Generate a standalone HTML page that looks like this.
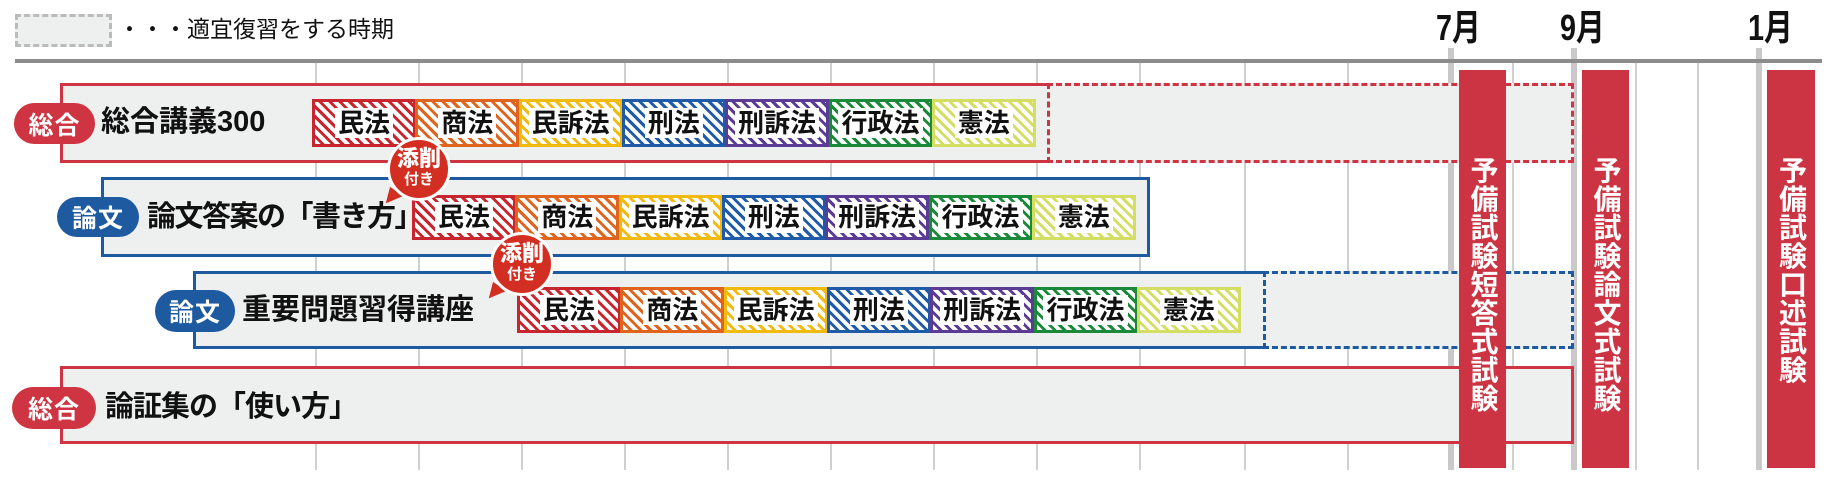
<!DOCTYPE html>
<html><head><meta charset="utf-8">
<style>
*{margin:0;padding:0;box-sizing:border-box}
body{width:1837px;height:477px;background:#fff;position:relative;overflow:hidden;font-family:"Liberation Sans","Noto Sans CJK JP",sans-serif;font-weight:bold;color:#111}
.a{position:absolute}
.g{position:absolute;top:62px;height:408px;width:2px;background:#d0d0d0}
.gt{position:absolute;top:48px;height:422px;width:6px;background:#c9c9c9}
.row{position:absolute;background:#eef0ef}
.badge{position:absolute;border-radius:21px;color:#fff;font-size:25px;display:flex;align-items:center;justify-content:center;letter-spacing:1px}
.title{position:absolute;font-size:29px;white-space:nowrap;line-height:1}
.sb{position:absolute;border:3px solid;display:flex;align-items:center;justify-content:center;font-size:26px}
.sb span{background:#fff;padding:1px 3px;line-height:1.1}
.bar{position:absolute;top:70px;height:398px;background:#cd3443;color:#fff;font-size:28px;writing-mode:vertical-rl;text-orientation:upright;display:flex;justify-content:flex-start;align-items:center;padding-top:86px;line-height:1;letter-spacing:0.5px}
.mon{position:absolute;top:10px;font-size:36px;line-height:1;transform:scaleX(.8);transform-origin:left}
.bub{position:absolute;width:64px;height:64px;border-radius:50%;background:#d22f22;border:3px solid #fff;color:#fff;text-align:center;line-height:1}
.bub b{display:block;font-size:22px;margin-top:8px}
.bub i{display:block;font-style:normal;font-size:15px;margin-top:2px}
.tail{position:absolute;width:0;height:0;border-left:6px solid transparent;border-right:10px solid transparent;border-top:16px solid #d22f22;transform:rotate(35deg)}
</style></head><body>

<div class="a" style="left:15px;top:14px;width:97px;height:33px;border:3px dashed #bbb;background:#eef0ef"></div>
<div class="a" style="left:118px;top:18px;font-size:23px;font-weight:normal;line-height:1">・・・適宜復習をする時期</div>

<div class="g" style="left:315px"></div><div class="g" style="left:418px"></div><div class="g" style="left:521px"></div>
<div class="g" style="left:624px"></div><div class="g" style="left:727px"></div><div class="g" style="left:830px"></div>
<div class="g" style="left:933px"></div><div class="g" style="left:1036px"></div><div class="g" style="left:1139px"></div>
<div class="g" style="left:1244px"></div><div class="g" style="left:1347px"></div><div class="g" style="left:1512px"></div>
<div class="g" style="left:1635px"></div><div class="g" style="left:1697px"></div>
<div class="gt" style="left:1448px"></div><div class="gt" style="left:1571px"></div><div class="gt" style="left:1756px"></div>
<div class="a" style="left:15px;top:59px;width:1807px;height:4px;background:#8c8c8c"></div>

<div class="mon" style="left:1436px">7月</div>
<div class="mon" style="left:1560px">9月</div>
<div class="mon" style="left:1748px">1月</div>

<div class="row" style="left:60px;top:83px;width:987px;height:80px;border:3px solid #cf3442;border-right:none"></div>
<div class="row" style="left:1047px;top:83px;width:527px;height:80px;border:3px dashed #cf3442"></div>
<div class="badge" style="left:14px;top:103px;width:81px;height:41px;background:#cf3442">総合</div>
<div class="title" style="left:101px;top:108px">総合講義300</div>

<div class="row" style="left:101px;top:177px;width:1049px;height:80px;border:3px solid #1e5aa0"></div>
<div class="badge" style="left:57px;top:197px;width:82px;height:40px;background:#1e5aa0">論文</div>
<div class="title" style="left:147px;top:203px;letter-spacing:-1.5px">論文答案の「書き方」</div>

<div class="row" style="left:193px;top:271px;width:1071px;height:78px;border:3px solid #1e5aa0;border-right:none"></div>
<div class="row" style="left:1263px;top:271px;width:311px;height:78px;border:3px dashed #1e5aa0"></div>
<div class="badge" style="left:155px;top:290px;width:80px;height:42px;background:#1e5aa0">論文</div>
<div class="title" style="left:242px;top:296px">重要問題習得講座</div>

<div class="row" style="left:60px;top:366px;width:1514px;height:78px;border:3px solid #cf3442"></div>
<div class="badge" style="left:12px;top:387px;width:84px;height:42px;background:#cf3442">総合</div>
<div class="title" style="left:105px;top:393px;letter-spacing:-1px">論証集の「使い方」</div>

<div id="subs"></div>

<div class="tail" style="left:384px;top:190px"></div>
<div class="bub" style="left:387px;top:137px"><b>添削</b><i>付き</i></div>
<div class="tail" style="left:487px;top:285px"></div>
<div class="bub" style="left:490px;top:232px"><b>添削</b><i>付き</i></div>

<div class="bar" style="left:1459px;width:47px">予備試験短答式試験</div>
<div class="bar" style="left:1582px;width:47px">予備試験論文式試験</div>
<div class="bar" style="left:1767px;width:48px">予備試験口述試験</div>

<script>
var subs=[["民法","#c8252e"],["商法","#e0641d"],["民訴法","#f2b90f"],["刑法","#1f5ba8"],["刑訴法","#5b3b93"],["行政法","#1a8a3a"],["憲法","#d3de62"]];
var rows=[[312,99,48],[412,195,45],[517,287,46]];
var h="";
rows.forEach(function(r){subs.forEach(function(s,i){
 h+='<div class="sb" style="left:'+(r[0]+i*103.3)+'px;top:'+r[1]+'px;width:104px;height:'+r[2]+'px;border-color:'+s[1]+';background:repeating-linear-gradient(45deg,#fff 0 4px,'+s[1]+' 4px 7px)"><span>'+s[0]+'</span></div>';
});});
document.getElementById("subs").outerHTML=h;
</script>
</body></html>
